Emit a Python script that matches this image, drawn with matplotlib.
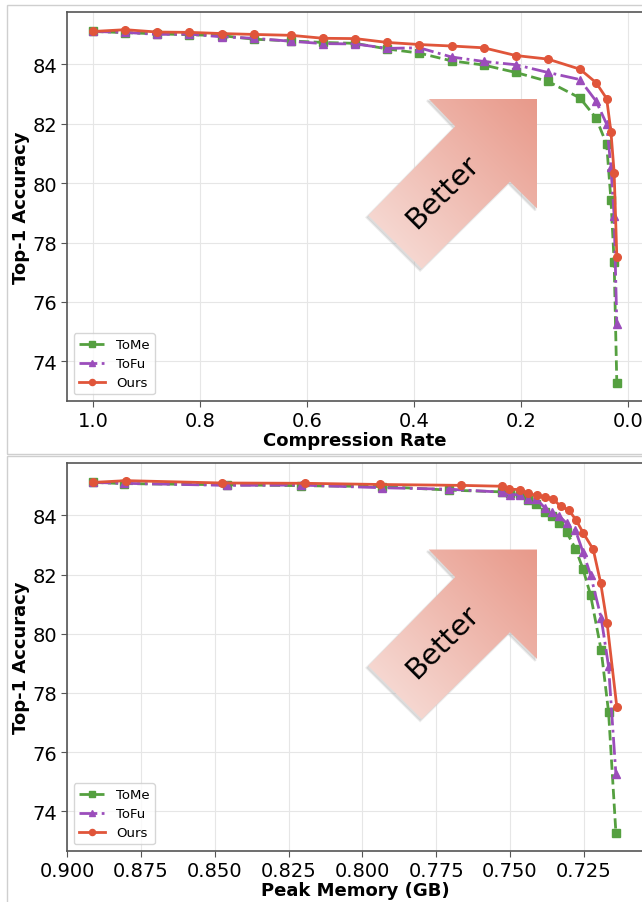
import numpy as np
import matplotlib.pyplot as plt
from matplotlib.patches import Polygon, Rectangle
from matplotlib.colors import LinearSegmentedColormap

# compression rate (shared by all methods)
comp_rate = [1.0, 0.94, 0.88, 0.82, 0.76, 0.70, 0.63, 0.57, 0.51, 0.45, 0.39,
             0.33, 0.27, 0.21, 0.15, 0.09, 0.06, 0.04, 0.032, 0.026, 0.021]

# peak memory (GB)
mem_base = [0.8912, 0.8809, 0.8459, 0.8209, 0.7934, 0.7705, 0.7526, 0.7499, 0.7467, 0.7438, 0.7411,
            0.7382, 0.7357, 0.7335, 0.7308, 0.7278, 0.7253, 0.7227, 0.7191, 0.7166, 0.7141]
mem_ours = [0.8912, 0.8801, 0.8474, 0.8194, 0.7939, 0.7665, 0.7526, 0.7502, 0.7467, 0.7438, 0.7410,
            0.7382, 0.7355, 0.7328, 0.7301, 0.7276, 0.7251, 0.7218, 0.7193, 0.7171, 0.7138]

# top-1 accuracy
acc_tome = [85.11, 85.07, 85.03, 85.00, 84.97, 84.85, 84.79, 84.74, 84.71, 84.52, 84.38,
            84.12, 83.98, 83.73, 83.43, 82.87, 82.20, 81.31, 79.44, 77.36, 73.26]
acc_tofu = [85.11, 85.08, 85.01, 85.02, 84.93, 84.88, 84.78, 84.70, 84.69, 84.54, 84.56,
            84.25, 84.10, 83.99, 83.73, 83.49, 82.77, 81.99, 80.53, 78.90, 75.25]
acc_ours = [85.11, 85.17, 85.09, 85.08, 85.04, 85.01, 84.98, 84.88, 84.87, 84.74, 84.67,
            84.62, 84.56, 84.30, 84.18, 83.84, 83.39, 82.85, 81.73, 80.36, 77.53]

c_tome = "#55a040"
c_tofu = "#9b4dbb"
c_ours = "#e0553a"

W, H = 642, 903
fig = plt.figure(figsize=(W / 100, H / 100), dpi=100)

# panel frames (two stacked sub-figures)
fig.add_artist(Rectangle((7 / W, (H - 455) / H), 1.2, (455 - 6) / H, transform=fig.transFigure,
                         fill=False, ec="#cfcfcf", lw=1.0))
fig.add_artist(Rectangle((7 / W, -0.05), 1.2, (H - 457) / H + 0.05, transform=fig.transFigure,
                         fill=False, ec="#cfcfcf", lw=1.0))

ax1 = fig.add_axes([67 / W, (H - 402) / H, 576 / W, 389 / H])
ax2 = fig.add_axes([67 / W, (H - 852) / H, 576 / W, 388 / H])

arrow_pts = [(0.628, 0.777), (0.816, 0.777), (0.816, 0.495), (0.769, 0.564),
             (0.616, 0.340), (0.523, 0.477), (0.674, 0.706)]
grad_cmap = LinearSegmentedColormap.from_list("better", ["#f8e2dd", "#e8998a"])


def draw_arrow(ax):
    xlim, ylim = ax.get_xlim(), ax.get_ylim()
    # soft shadow
    sh = [(x - 0.003, y - 0.005) for x, y in arrow_pts]
    ax.add_patch(Polygon(sh, closed=True, transform=ax.transAxes, fc="#a0a0a0",
                         ec="#c8c8c8", lw=1.5, alpha=0.35, zorder=1))
    poly = Polygon(arrow_pts, closed=True, transform=ax.transAxes, fc="none", ec="none", zorder=1)
    ax.add_patch(poly)
    gx, gy = np.meshgrid(np.linspace(0, 1, 200), np.linspace(0, 1, 200))
    grad = (gx + gy) / 2
    im = ax.imshow(grad, cmap=grad_cmap, origin="lower", extent=[0.523, 0.816, 0.340, 0.777],
                   transform=ax.transAxes, aspect="auto", zorder=1, interpolation="bilinear")
    im.set_clip_path(poly)
    ax.text(0.652, 0.54, "Better", transform=ax.transAxes, rotation=45, fontsize=21,
            ha="center", va="center", rotation_mode="anchor", zorder=2)
    ax.set_xlim(xlim)
    ax.set_ylim(ylim)


def style(ax, xlabel):
    ax.grid(True, color="#e6e6e6", lw=0.8, zorder=0)
    ax.set_axisbelow(True)
    for s in ax.spines.values():
        s.set_color("#555555")
        s.set_linewidth(1.2)
    ax.tick_params(labelsize=14, length=4, color="#555555", pad=3)
    ax.set_xlabel(xlabel, fontsize=13, fontweight="bold", labelpad=1)
    ax.set_ylabel("Top-1 Accuracy", fontsize=13, fontweight="bold", labelpad=2)
    ax.set_yticks([74, 76, 78, 80, 82, 84])
    ax.legend(loc="lower left", fontsize=9.5, edgecolor="#cccccc", markerscale=0.8,
              handlelength=2.0, borderpad=0.4, labelspacing=0.45)


kw = dict(lw=2, ms=5.5, zorder=3)

ax1.plot(comp_rate, acc_tome, ls="--", marker="s", color=c_tome, label="ToMe", **kw)
ax1.plot(comp_rate, acc_tofu, ls="-.", marker="^", color=c_tofu, label="ToFu", **kw)
ax1.plot(comp_rate, acc_ours, ls="-", marker="o", color=c_ours, label="Ours", **kw)
ax1.invert_xaxis()
ax1.set_xticks([1.0, 0.8, 0.6, 0.4, 0.2, 0.0])
style(ax1, "Compression Rate")
draw_arrow(ax1)

ax2.plot(mem_base, acc_tome, ls="--", marker="s", color=c_tome, label="ToMe", **kw)
ax2.plot(mem_base, acc_tofu, ls="-.", marker="^", color=c_tofu, label="ToFu", **kw)
ax2.plot(mem_ours, acc_ours, ls="-", marker="o", color=c_ours, label="Ours", **kw)
ax2.invert_xaxis()
ax2.set_xticks([0.900, 0.875, 0.850, 0.825, 0.800, 0.775, 0.750, 0.725])
ax2.xaxis.set_major_formatter(plt.FormatStrFormatter("%.3f"))
style(ax2, "Peak Memory (GB)")
draw_arrow(ax2)

fig.savefig("out.png", dpi=100)
